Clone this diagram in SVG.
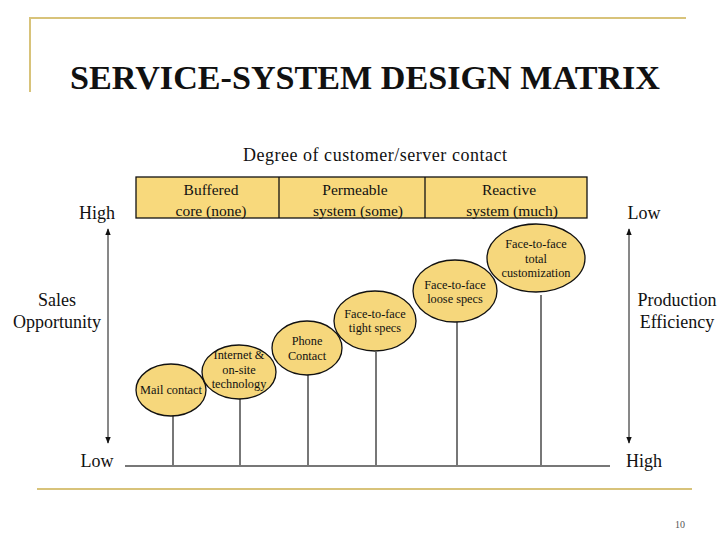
<svg xmlns="http://www.w3.org/2000/svg" width="728" height="546" viewBox="0 0 728 546" font-family="'Liberation Serif', 'DejaVu Serif', serif">
<style>
text{fill:#111}
.t{font-size:33px;font-weight:bold;text-anchor:middle}
.m{font-size:18px;text-anchor:middle}
.h{font-size:15.5px;text-anchor:middle}
.s{font-size:12.3px;text-anchor:middle}
.deco{stroke:#d8c37a;stroke-width:2;fill:none}
.node{fill:#f6d77c;stroke:#111;stroke-width:1.3}
.stem{stroke:#777;stroke-width:2}
.ax{stroke:#111;stroke-width:1}
</style>
<defs>
<marker id="ah" viewBox="0 0 10 10" refX="9" refY="5" markerWidth="7" markerHeight="7" orient="auto-start-reverse">
<path d="M0,1 L10,5 L0,9 z" fill="#111"/>
</marker>
</defs>
<rect width="728" height="546" fill="#fff"/>
<path class="deco" d="M30,92 V18 H686"/>
<line class="deco" x1="37" y1="489" x2="692" y2="489"/>
<text class="t" x="365" y="89" font-family="'Liberation Serif', serif" textLength="590" lengthAdjust="spacingAndGlyphs">SERVICE-SYSTEM DESIGN MATRIX</text>
<text class="m" x="375" y="161" font-family="'Liberation Serif', serif" textLength="264">Degree of customer/server contact</text>
<g id="header" font-family="'Liberation Serif', serif">
<rect x="136" y="177" width="451" height="41" fill="#f8d97c" stroke="#111" stroke-width="1.3"/>
<line x1="279" y1="177" x2="279" y2="218" stroke="#111" stroke-width="1.3"/>
<line x1="425" y1="177" x2="425" y2="218" stroke="#111" stroke-width="1.3"/>
<text class="h" x="211" y="195">Buffered</text>
<text class="h" x="211" y="216">core (none)</text>
<text class="h" x="355" y="195">Permeable</text>
<text class="h" x="358" y="216">system (some)</text>
<text class="h" x="509" y="195">Reactive</text>
<text class="h" x="512" y="216">system (much)</text>
</g>
<g id="connectors">
<line class="stem" x1="125" y1="466" x2="610" y2="466"/>
<line class="stem" x1="173" y1="416" x2="173" y2="466"/>
<line class="stem" x1="240" y1="399" x2="240" y2="466"/>
<line class="stem" x1="308" y1="375" x2="308" y2="466"/>
<line class="stem" x1="376" y1="352" x2="376" y2="466"/>
<line class="stem" x1="457" y1="322" x2="457" y2="466"/>
<line class="stem" x1="541" y1="295" x2="541" y2="466"/>
<line class="ax" x1="108" y1="229" x2="108" y2="443" marker-start="url(#ah)" marker-end="url(#ah)"/>
<line class="ax" x1="629" y1="229" x2="629" y2="443" marker-start="url(#ah)" marker-end="url(#ah)"/>
</g>
<g font-family="'Liberation Serif', serif">
<g id="mail"><ellipse class="node" cx="171" cy="390" rx="35" ry="26"/><text class="s" x="171" y="394">Mail contact</text></g>
<g id="internet"><ellipse class="node" cx="239" cy="372" rx="37" ry="27"/><text class="s" x="239" y="359">Internet &amp;</text><text class="s" x="239" y="374">on-site</text><text class="s" x="239" y="388">technology</text></g>
<g id="phone"><ellipse class="node" cx="307" cy="348" rx="35" ry="27"/><text class="s" x="307" y="345">Phone</text><text class="s" x="307" y="360">Contact</text></g>
<g id="tight"><ellipse class="node" cx="375" cy="321" rx="41" ry="30"/><text class="s" x="375" y="318">Face-to-face</text><text class="s" x="375" y="332">tight specs</text></g>
<g id="loose"><ellipse class="node" cx="455" cy="291" rx="42" ry="31"/><text class="s" x="455" y="289">Face-to-face</text><text class="s" x="455" y="303">loose specs</text></g>
<g id="total"><ellipse class="node" cx="536" cy="258" rx="49" ry="34"/><text class="s" x="536" y="248">Face-to-face</text><text class="s" x="536" y="263">total</text><text class="s" x="536" y="277">customization</text></g>
<text class="m" x="97" y="219">High</text>
<text class="m" x="97" y="467">Low</text>
<text class="m" x="57" y="306">Sales</text>
<text class="m" x="57" y="328">Opportunity</text>
<text class="m" x="644" y="219">Low</text>
<text class="m" x="644" y="467">High</text>
<text class="m" x="677" y="306">Production</text>
<text class="m" x="677" y="328">Efficiency</text>
<text x="680" y="528" style="font-size:10px;text-anchor:middle;fill:#555">10</text>
</g>
</svg>
